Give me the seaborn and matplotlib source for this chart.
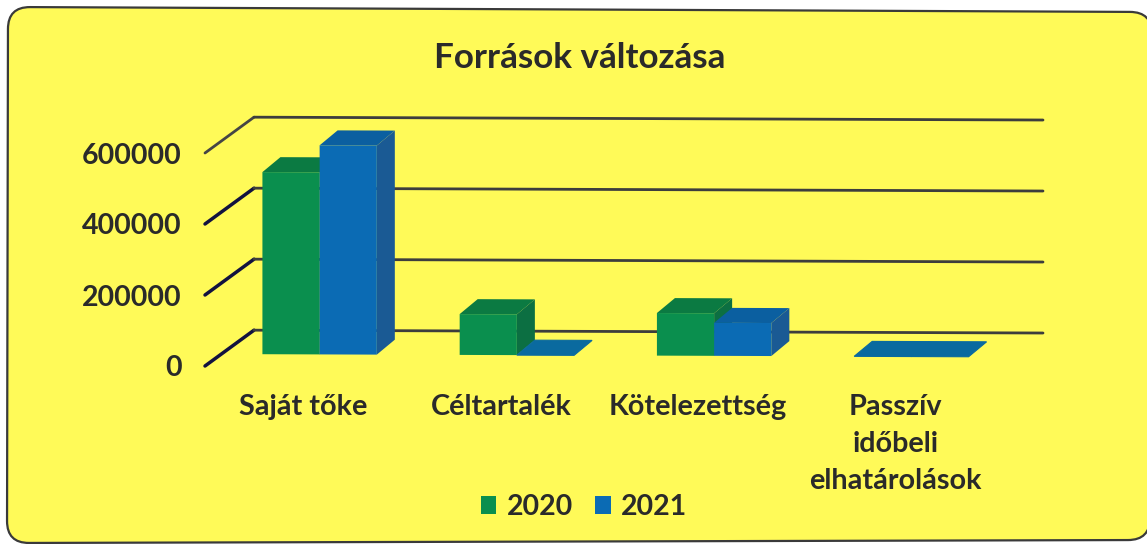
import matplotlib
matplotlib.use("Agg")
import matplotlib.pyplot as plt
import pandas as pd
import seaborn as sns
from matplotlib.patches import PathPatch, Polygon
from matplotlib.path import Path
from matplotlib.transforms import Affine2D, IdentityTransform
from matplotlib.lines import Line2D

categories = ["Saját tőke", "Céltartalék", "Kötelezettség", "Passzív\nidőbeli\nelhatárolások"]
values_2020 = [513000, 115000, 120000, 0]
values_2021 = [589000, 0, 93000, 0]
years = ["2020", "2021"]
y_ticks = [0, 200000, 400000, 600000]

W, H = 1147, 544
FONT = "Lato"
INK = "#2a2a2a"
front = {"2020": "#0a8f4e", "2021": "#0b6bb4"}
top_c = {"2020": "#0b7a42", "2021": "#0b5fa0"}
side_c = {"2020": "#0c6f42", "2021": "#1a5a94"}
flat_c = "#0a6a9f"

sns.set_theme(style="white")
plt.rcParams["font.family"] = [FONT, "DejaVu Sans"]

fig = plt.figure(figsize=(W / 100, H / 100), dpi=100, facecolor="white")
L, R, T, B = 205, 994, 153, 366
ax = fig.add_axes([L / W, 1 - B / H, (R - L) / W, (B - T) / H])
ax.patch.set_visible(False)

# scan tilt of the original image: everything slopes slightly downwards to the right
k = 0.0036
tilt = Affine2D.from_values(1, -k, 0, 1, 0, k * L)

df = pd.DataFrame({
    "cat": categories * 2,
    "year": [years[0]] * 4 + [years[1]] * 4,
    "val": values_2020 + values_2021,
})
sns.barplot(data=df, x="cat", y="val", hue="year", palette=front, width=0.58,
            gap=0, saturation=1, ax=ax, legend=False, linewidth=0)
ax.set_xlim(-0.5, 3.5)
ax.set_ylim(0, 600000)
px_x = 4 / (R - L)
px_y = 600000 / (B - T)

# yellow rounded card (slightly distorted by the scan)
r = 22
c_tl, c_tr, c_br, c_bl = (8, 7), (1152, 12), (1150, 540), (7, 543)


def toward(a, b, dist):
    n = ((b[0] - a[0]) ** 2 + (b[1] - a[1]) ** 2) ** 0.5
    return (a[0] + (b[0] - a[0]) * dist / n, a[1] + (b[1] - a[1]) * dist / n)


corners = [c_tl, c_tr, c_br, c_bl]
verts, codes = [], []
for i, c in enumerate(corners):
    prev_c, next_c = corners[i - 1], corners[(i + 1) % 4]
    verts += [toward(c, prev_c, r), c, toward(c, next_c, r)]
    codes += [Path.MOVETO if i == 0 else Path.LINETO, Path.CURVE3, Path.CURVE3]
verts.append(verts[0])
codes.append(Path.CLOSEPOLY)
verts = [(x, H - y) for x, y in verts]
card = PathPatch(Path(verts, codes), fc="#fffa58", ec="#3a3a3a", lw=1.6,
                 transform=IdentityTransform(), zorder=-10)
fig.add_artist(card)

wall_dx, wall_dy = 49 * px_x, 36 * px_y
bar_dx, bar_dy = 16 * px_x, 12 * px_y
depth_dx, depth_dy = 18 * px_x, 15 * px_y

# walls: diagonal floor/side ticks and back gridlines
for i, v in enumerate(y_ticks):
    col = "#454545" if v == y_ticks[-1] else "#12123f"
    ax.add_line(Line2D([-0.5, -0.5 + wall_dx], [v, v + wall_dy], color=col,
                       lw=2.0 if v == y_ticks[-1] else 2.5,
                       clip_on=False, zorder=1, solid_capstyle="round"))
    ax.add_line(Line2D([-0.5 + wall_dx, 3.5 + wall_dx], [v + wall_dy, v + wall_dy],
                       color="#3d3d3d", lw=2.0, clip_on=False, zorder=1))

# bars with depth faces
for z, (year, cont) in enumerate(zip(years, ax.containers)):
    for bar in cont:
        x0 = bar.get_x() + bar_dx
        w = bar.get_width()
        h = bar.get_height()
        bar.set_x(x0)
        bar.set_y(bar_dy)
        bar.set_zorder(4 + 2 * z)
        bar.set_clip_on(False)
        b0, b1 = bar_dy, bar_dy + h
        flat = h == 0
        top = Polygon([(x0, b1), (x0 + w, b1), (x0 + w + depth_dx, b1 + depth_dy),
                       (x0 + depth_dx, b1 + depth_dy)],
                      fc=flat_c if flat else top_c[year],
                      ec=flat_c if flat else "none", lw=0.8 if flat else 0,
                      zorder=3 + 2 * z, clip_on=False)
        ax.add_patch(top)
        if not flat:
            side = Polygon([(x0 + w, b0), (x0 + w + depth_dx, b0 + depth_dy),
                            (x0 + w + depth_dx, b1 + depth_dy), (x0 + w, b1)],
                           fc=side_c[year], ec="none", zorder=3 + 2 * z, clip_on=False)
            ax.add_patch(side)

for art in list(ax.patches) + list(ax.lines):
    art.set_transform(ax.transData + tilt)

sns.despine(ax=ax, left=True, bottom=True)
ax.set_xlabel("")
ax.set_ylabel("")
ax.set_yticks(y_ticks)
ax.set_yticklabels([str(v) for v in y_ticks], fontsize=20.5, fontweight="bold", color=INK)
ax.tick_params(axis="y", length=0, pad=17)
ax.tick_params(axis="x", length=0, pad=20)
ax.set_xticks(range(4))
ax.set_xticklabels(categories, fontsize=20.7, fontweight="bold", color=INK, linespacing=1.52)

fig.text(580 / W, 1 - 58 / H, "Források változása", ha="center", va="center",
         fontsize=25.2, fontweight="bold", color=INK)

handles = [plt.Rectangle((0, 0), 1, 1, fc=front[y], ec="none") for y in years]
fig.legend(handles, years, loc="center", bbox_to_anchor=(584 / W, 1 - 507 / H), ncol=2,
           frameon=False, handlelength=0.56, handleheight=0.56, handletextpad=0.35,
           columnspacing=0.8, prop={"family": FONT, "size": 20.5, "weight": "bold"},
           labelcolor=INK)

fig.savefig("out.png", dpi=100, facecolor="white")
